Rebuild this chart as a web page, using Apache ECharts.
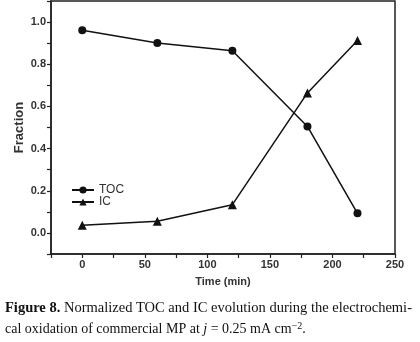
<!DOCTYPE html>
<html>
<head>
<meta charset="utf-8">
<script src="https://cdn.jsdelivr.net/npm/echarts@6/dist/echarts.min.js"></script>
<style>
html,body{margin:0;padding:0;background:#fff;}
#chart{width:420px;height:342px;}
</style>
</head>
<body>
<div id="chart"></div>
<script>
var times = [0, 60, 120, 180, 220];
var tocValues = [0.961, 0.901, 0.864, 0.505, 0.093];
var icValues = [0.036, 0.055, 0.134, 0.664, 0.913];
var seriesNames = ['TOC', 'IC'];

function pairs(xs, ys) {
	var out = [];
	for (var i = 0; i < xs.length; i++) {
		out.push([xs[i], ys[i]]);
	}
	return out;
}

var myChart = echarts.init(document.getElementById('chart'));
var axisColor = '#222';
var labelFont = {color: '#333', fontSize: 11, fontWeight: 'bold', fontFamily: 'Liberation Sans'};

var option = {
	backgroundColor: '#fff',
	animation: false,
	grid: {
		left: 51, right: 25, top: 1, bottom: 88,
		show: true, borderColor: axisColor, borderWidth: 1.5, backgroundColor: 'transparent'
	},
	legend: {
		data: seriesNames,
		orient: 'vertical',
		left: 66, top: 179,
		itemWidth: 22, itemHeight: 9, itemGap: 0,
		textStyle: {color: '#333', fontSize: 12, fontFamily: 'Liberation Sans'}
	},
	xAxis: {
		type: 'value',
		min: -25, max: 250, interval: 25,
		name: 'Time (min)', nameLocation: 'middle', nameGap: 22,
		nameTextStyle: {color: '#333', fontSize: 11, fontWeight: 'bold', fontFamily: 'Liberation Sans'},
		axisLine: {onZero: false, lineStyle: {color: axisColor, width: 1.5}},
		axisTick: {length: 4, lineStyle: {color: axisColor, width: 1.2}},
		splitLine: {show: false},
		axisLabel: Object.assign({
			margin: 5,
			formatter: function (v) { return (Math.round(v) % 50 === 0 && v >= 0) ? String(Math.round(v)) : ''; }
		}, labelFont)
	},
	yAxis: {
		type: 'value',
		min: -0.1, max: 1.1, interval: 0.1,
		name: 'Fraction', nameLocation: 'middle', nameGap: 25, nameMoveOverlap: false,
		nameTextStyle: {color: '#333', fontSize: 13, fontWeight: 'bold', fontFamily: 'Liberation Sans'},
		axisLine: {onZero: false, lineStyle: {color: axisColor, width: 1.5}},
		axisTick: {length: 4, lineStyle: {color: axisColor, width: 1.2}},
		splitLine: {show: false},
		axisLabel: Object.assign({
			margin: 5,
			formatter: function (v) {
				var k = Math.round(v * 10);
				return (k % 2 === 0 && k >= 0 && k <= 10) ? (k / 10).toFixed(1) : '';
			}
		}, labelFont)
	},
	series: [
		{
			name: seriesNames[0], type: 'line',
			data: pairs(times, tocValues),
			symbol: 'circle', symbolSize: 8,
			itemStyle: {color: '#111'},
			lineStyle: {color: '#111', width: 1.5}
		},
		{
			name: seriesNames[1], type: 'line',
			data: pairs(times, icValues),
			symbol: 'triangle', symbolSize: 9,
			itemStyle: {color: '#111'},
			lineStyle: {color: '#111', width: 1.5}
		}
	],
	graphic: [
		{
			type: 'text', left: 5, top: 301,
			style: {
				text: '{b|Figure 8.} Normalized TOC and IC evolution during the electrochemi-',
				font: '14.5px "Liberation Serif"', fill: '#111',
				rich: {b: {fontWeight: 'bold', fontSize: 14.5, fontFamily: 'Liberation Serif', fill: '#111'}}
			}
		},
		{
			type: 'text', left: 5, top: 321,
			style: {
				text: 'cal oxidation of commercial MP at {i|j} = 0.25 mA cm{s|\u22122}.',
				font: '14px "Liberation Serif"', fill: '#111',
				rich: {
					i: {fontStyle: 'italic', fontSize: 14, fontFamily: 'Liberation Serif', fill: '#111'},
					s: {fontSize: 10, fontFamily: 'Liberation Serif', fill: '#111', verticalAlign: 'top', padding: [0, 0, 7, 0]}
				}
			}
		}
	]
};

myChart.setOption(option);
</script>
</body>
</html>
